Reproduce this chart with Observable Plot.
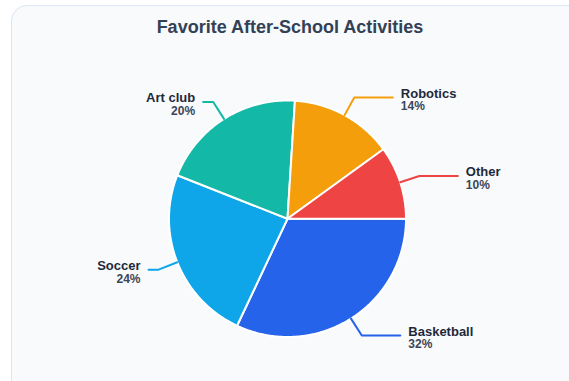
<!DOCTYPE html>
<html>
<head>
<meta charset="utf-8">
<script src="https://cdn.jsdelivr.net/npm/d3@7"></script>
<script src="https://cdn.jsdelivr.net/npm/@observablehq/plot@0.6"></script>
<style>
  html, body { margin: 0; padding: 0; background: #ffffff; }
  body { width: 569px; height: 381px; overflow: hidden; position: relative; font-family: "Liberation Sans", Arial, Helvetica, sans-serif; }
  #card { position: absolute; left: 11px; top: 5px; width: 620px; height: 420px; box-sizing: border-box;
          border: 1px solid #dbe6f6; border-radius: 16px; background: #f8fafc; }
  #title { position: absolute; left: 11px; top: 16px; width: 558px; text-align: center;
           font-weight: 700; font-size: 18px; color: #334155; line-height: 22px; }
  #chart { position: absolute; left: 0; top: 0; }
  #chart svg { background: transparent; }
</style>
</head>
<body>
<div id="card"></div>
<div id="title">Favorite After-School Activities</div>
<div id="chart"></div>
<script>
const names = ["Basketball", "Soccer", "Art club", "Robotics", "Other"];
const shares = [32, 24, 20, 14, 10];
const colors = ["#2563eb", "#0ea5e9", "#14b8a6", "#f59e0b", "#ef4444"];

const total = d3.sum(shares);
const ends = Array.from(d3.cumsum(shares));
const slices = names.map((name, i) => {
  const a0 = (ends[i] - shares[i]) / total * 2 * Math.PI;
  const a1 = ends[i] / total * 2 * Math.PI;
  return { name, share: shares[i], a0, a1, mid: (a0 + a1) / 2 };
});

// wedge outlines (clockwise from 3 o'clock, y downwards)
const wedgePts = [];
for (const s of slices) {
  wedgePts.push({ name: s.name, x: 0, y: 0 });
  const n = Math.max(2, Math.ceil((s.a1 - s.a0) / (Math.PI / 360)));
  for (let k = 0; k <= n; k++) {
    const a = s.a0 + (s.a1 - s.a0) * k / n;
    wedgePts.push({ name: s.name, x: Math.cos(a), y: Math.sin(a) });
  }
  wedgePts.push({ name: s.name, x: 0, y: 0 });
}

// leader lines
const elbowR = 1.17;
const leaderPts = [];
const labels = [];
for (const s of slices) {
  const c = Math.cos(s.mid), sn = Math.sin(s.mid);
  const right = c >= 0;
  const ex = c * elbowR, ey = sn * elbowR;
  const hx = ex + (right ? 0.325 : -0.085);
  leaderPts.push({ name: s.name, x: c, y: sn });
  leaderPts.push({ name: s.name, x: ex, y: ey });
  leaderPts.push({ name: s.name, x: hx, y: ey });
  labels.push({ name: s.name, pct: s.share + "%", x: hx, y: ey, right });
}

const plot = Plot.plot({
  width: 569,
  height: 381,
  margin: 0,
  x: { domain: [-1, 1], range: [168.5, 405.5], axis: null },
  y: { domain: [-1, 1], range: [100, 336.5], axis: null },
  color: { domain: names, range: colors },
  style: { background: "transparent", fontFamily: "Liberation Sans, Arial, sans-serif" },
  marks: [
    Plot.line(wedgePts, { x: "x", y: "y", z: "name", fill: "name", stroke: "#ffffff", strokeWidth: 2, strokeLinejoin: "round", curve: "linear" }),
    Plot.line(leaderPts, { x: "x", y: "y", z: "name", stroke: "name", strokeWidth: 2, curve: "linear" }),
    Plot.text(labels.filter(d => d.right), { x: "x", y: "y", text: "name", textAnchor: "start", dx: 8, dy: -4, fontSize: 13, fontWeight: "bold", fill: "#1e293b" }),
    Plot.text(labels.filter(d => d.right), { x: "x", y: "y", text: "pct", textAnchor: "start", dx: 8, dy: 9, fontSize: 12, fontWeight: "bold", fill: "#3b4658" }),
    Plot.text(labels.filter(d => !d.right), { x: "x", y: "y", text: "name", textAnchor: "end", dx: -8, dy: -4, fontSize: 13, fontWeight: "bold", fill: "#1e293b" }),
    Plot.text(labels.filter(d => !d.right), { x: "x", y: "y", text: "pct", textAnchor: "end", dx: -8, dy: 9, fontSize: 12, fontWeight: "bold", fill: "#3b4658" })
  ]
});
document.getElementById("chart").appendChild(plot);
</script>
</body>
</html>
